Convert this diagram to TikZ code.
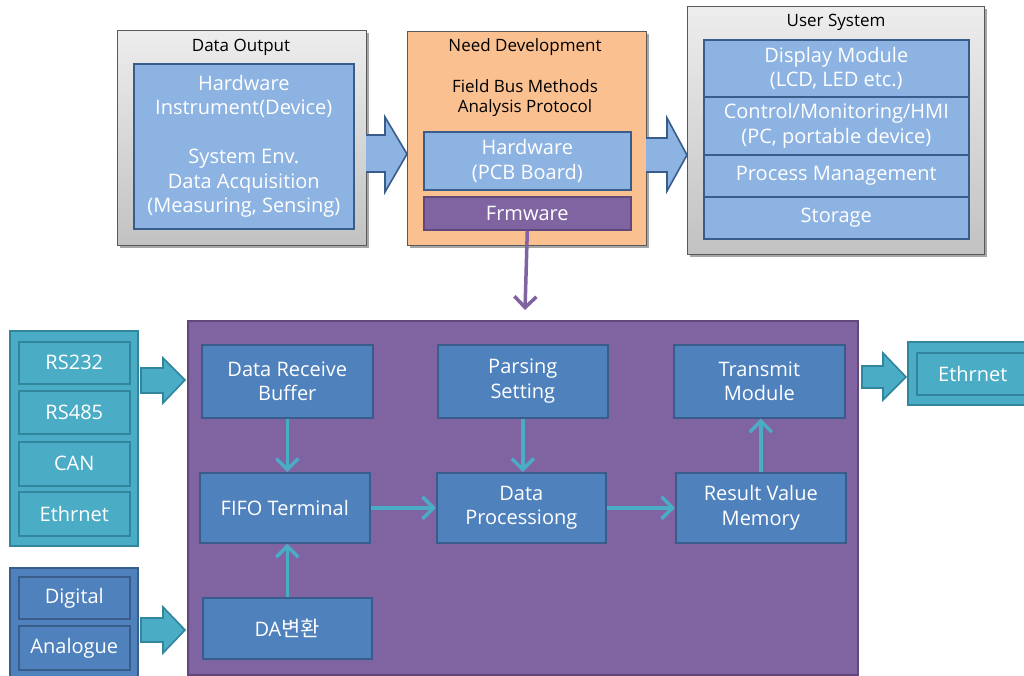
\documentclass[tikz,border=0pt]{standalone}
\usepackage{fontspec}
\setmainfont{Open Sans}
\newfontfamily\krfont{Noto Sans CJK KR}
\usetikzlibrary{arrows.meta,shadows}
\definecolor{lblue}{HTML}{8DB3E2}
\definecolor{dblue}{HTML}{385D8A}
\definecolor{mblue}{HTML}{4F81BD}
\definecolor{teal1}{HTML}{4BACC6}
\definecolor{teal2}{HTML}{31859C}
\definecolor{purp}{HTML}{8064A2}
\definecolor{purpd}{HTML}{5F497A}
\definecolor{orng}{HTML}{FAC090}
\definecolor{grayb}{HTML}{595959}
\newcommand\txtfont{\fontsize{20}{24.5}\selectfont}
\newcommand\ttlfont{\fontsize{17}{20.5}\selectfont}
\begin{document}
\begin{tikzpicture}[x=1pt,y=-1pt,
  grp/.style={draw=grayb, line width=1pt, top color=white!93!black, bottom color=white!76!black, anchor=north west, inner sep=0pt,
    drop shadow={shadow xshift=2pt, shadow yshift=-2pt, opacity=0.35, fill=black}},
  ttl/.style={font=\ttlfont, text=black, align=center, inner sep=0pt},
  lbox/.style={draw=dblue, fill=lblue, line width=1.6pt, text=white, font=\txtfont, align=center, anchor=north west, inner sep=0pt},
  mbox/.style={draw=dblue, fill=mblue, line width=1.6pt, text=white, font=\txtfont, align=center, anchor=north west, inner sep=0pt},
  tbox/.style={draw=teal2, fill=teal1, line width=1.6pt, text=white, font=\txtfont, align=center, anchor=north west, inner sep=0pt},
  pbox/.style={draw=purpd, fill=purp, line width=1.6pt, text=white, font=\txtfont, align=center, anchor=north west, inner sep=0pt},
  conn/.style={draw=teal1, line width=3.5pt, -{Straight Barb[length=11pt,width=22pt,line width=3.5pt]}},
  barrow/.style={draw=dblue, fill=lblue, line width=1.6pt, line join=miter},
  tarrow/.style={draw=teal2, fill=teal1, line width=1.6pt, line join=miter}
]
\clip (0,0) rectangle (1024,675);
\useasboundingbox (0,0) rectangle (1024,675);
\fill[white] (0,0) rectangle (1024,675);

% ---- Data Output group
\node[grp, minimum width=249pt, minimum height=215pt] (dog) at (117,30) {};
\node[ttl] (dot) at (241,47) {Data Output};
\node[lbox, minimum width=220pt, minimum height=165pt] (doi) at (133,63)
  {Hardware\\Instrument(Device)\\[24.5pt]System Env.\\Data Acquisition\\(Measuring, Sensing)};

% ---- Need Development group
\node[grp, draw=grayb, top color=orng, bottom color=orng, minimum width=239pt, minimum height=214pt] (ndg) at (407,31) {};
\node[ttl] (ndt) at (525,47) {Need Development};
\node[ttl] (ndf) at (525,98) {Field Bus Methods\\Analysis Protocol};
\node[lbox, minimum width=207pt, minimum height=58pt] (hw) at (423,131) {Hardware\\(PCB Board)};
\node[pbox, minimum width=207pt, minimum height=33pt] (frm) at (423,196) {Frmware};

% ---- User System group
\node[grp, minimum width=297pt, minimum height=248pt] (usg) at (687,6) {};
\node[ttl] (ust) at (836,22) {User System};
\node[lbox, minimum width=265pt, minimum height=57pt] (us1) at (703,39) {Display Module\\(LCD, LED etc.)};
\node[lbox, minimum width=265pt, minimum height=58pt] (us2) at (703,96) {Control/Monitoring/HMI\\(PC, portable device)};
\node[lbox, minimum width=265pt, minimum height=42pt] (us3) at (703,154) {Process Management};
\node[lbox, minimum width=265pt, minimum height=42pt] (us4) at (703,196) {Storage};

% ---- top block arrows
\draw[barrow] (366,135) -- (385,135) -- (385,117) -- (407,154) -- (385,192) -- (385,172) -- (366,172);
\draw[barrow] (646,138) -- (667,138) -- (667,118) -- (687,155) -- (667,191) -- (667,172) -- (646,172);

% ---- purple firmware arrow
\coordinate (fend) at (525,310);
\draw[draw=purp, line width=3.5pt, -{Straight Barb[length=11pt,width=22pt,line width=3.5pt]}] (frm.south) -- (fend);

% ---- left teal group
\node[tbox, minimum width=128pt, minimum height=215pt] (tg) at (9,330) {};
\node[tbox, minimum width=111pt, minimum height=42pt] (rs232) at (18,341) {RS232};
\node[tbox, minimum width=111pt, minimum height=43pt] (rs485) at (18,390) {RS485};
\node[tbox, minimum width=111pt, minimum height=44pt] (can) at (18,441) {CAN};
\node[tbox, minimum width=111pt, minimum height=44pt] (eth) at (18,491) {Ethrnet};

% ---- left blue group
\node[mbox, minimum width=128pt, minimum height=130pt] (bg) at (9,567) {};
\node[mbox, minimum width=111pt, minimum height=42pt] (dig) at (18,576) {Digital};
\node[mbox, minimum width=111pt, minimum height=44pt] (ana) at (18,625) {Analogue};

% ---- teal block arrows
\draw[tarrow] (141,368) -- (163,368) -- (163,358) -- (185,380) -- (163,403) -- (163,393) -- (141,393) -- cycle;
\draw[tarrow] (141,618) -- (163,618) -- (163,607) -- (185,630) -- (163,653) -- (163,642) -- (141,642) -- cycle;
\draw[tarrow] (862,366) -- (883,366) -- (883,353) -- (906,377) -- (883,400) -- (883,388) -- (862,388) -- cycle;

% ---- big purple frame
\node[pbox, minimum width=670pt, minimum height=354pt] (main) at (187,320) {};

\node[mbox, minimum width=171pt, minimum height=73pt] (drb) at (201,344) {Data Receive\\Buffer};
\node[mbox, minimum width=170pt, minimum height=73pt] (pars) at (437,344) {Parsing\\Setting};
\node[mbox, minimum width=171pt, minimum height=73pt] (tm) at (673,344) {Transmit\\Module};
\node[mbox, minimum width=170pt, minimum height=70pt] (fifo) at (199,472) {FIFO Terminal};
\node[mbox, minimum width=169pt, minimum height=70pt] (dp) at (436,472) {Data\\Processiong};
\node[mbox, minimum width=170pt, minimum height=70pt] (rvm) at (675,472) {Result Value\\Memory};
\node[mbox, minimum width=169pt, minimum height=61pt] (da) at (202,597) {DA{\krfont\fontsize{21}{24.5}\selectfont 변환}};

\draw[conn] (drb.south) -- (fifo.north -| drb.south);
\draw[conn] (pars.south) -- (dp.north -| pars.south);
\draw[conn] (fifo.east) -- (dp.west);
\draw[conn] (dp.east) -- (rvm.west);
\draw[conn] (rvm.north) -- (tm.south -| rvm.north);
\draw[conn] (da.north) -- (fifo.south -| da.north);

% ---- right Ethernet
\node[tbox, minimum width=133pt, minimum height=63pt] (reo) at (907,341) {};
\node[tbox, minimum width=112pt, minimum height=42pt] (rei) at (916,352) {Ethrnet};
\end{tikzpicture}
\end{document}
